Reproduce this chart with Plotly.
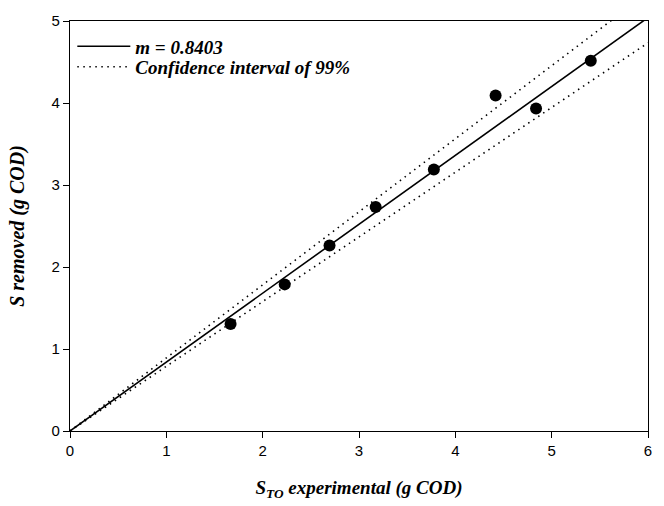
import plotly.graph_objects as go

# Data
s_to_exp = [1.667, 2.229, 2.694, 3.173, 3.777, 4.418, 4.838, 5.406]
s_removed = [1.305, 1.788, 2.261, 2.731, 3.188, 4.092, 3.932, 4.514]
slope = 0.8403
slope_upper = 0.891
slope_lower = 0.789
line_x = [0, 6]

x_ticks = [0, 1, 2, 3, 4, 5, 6]
y_ticks = [0, 1, 2, 3, 4, 5]

serif = "Liberation Serif, Times New Roman, serif"
sans = "Liberation Sans, Arial, sans-serif"

fig = go.Figure()
fig.add_trace(go.Scatter(
    x=line_x, y=[slope * v for v in line_x], mode="lines",
    line=dict(color="black", width=1.6),
    name="<b><i>m = 0.8403</i></b>", legend="legend"))
fig.add_trace(go.Scatter(
    x=line_x, y=[slope_upper * v for v in line_x], mode="lines",
    line=dict(color="black", width=1.6, dash="1.5px,4.5px"),
    name="<b><i>Confidence interval of 99%</i></b>", legend="legend2"))
fig.add_trace(go.Scatter(
    x=line_x, y=[slope_lower * v for v in line_x], mode="lines",
    line=dict(color="black", width=1.6, dash="1.5px,4.5px"),
    showlegend=False))
fig.add_trace(go.Scatter(
    x=s_to_exp, y=s_removed, mode="markers",
    marker=dict(color="black", size=12, symbol="circle"),
    showlegend=False))

axis_common = dict(
    showgrid=False, zeroline=False, showline=True, linecolor="black",
    linewidth=1.3, mirror=True, ticks="outside", ticklen=6, tickwidth=1.3,
    tickcolor="black", tickfont=dict(family=sans, size=15, color="black"),
)

legend_common = dict(
    xanchor="left", yanchor="middle", bgcolor="rgba(0,0,0,0)",
    font=dict(family=serif, size=19, color="black"), itemwidth=53,
)

fig.update_layout(
    width=664, height=506,
    margin=dict(l=70, r=13, t=13, b=74),
    paper_bgcolor="white", plot_bgcolor="white",
    xaxis=dict(range=[0, 6], tickvals=x_ticks, **axis_common,
               title=dict(text="<b><i>S<sub>TO</sub> experimental (g COD)</i></b>",
                          font=dict(family=serif, size=19, color="black"),
                          standoff=22)),
    yaxis=dict(range=[0, 5], tickvals=y_ticks, **axis_common,
               title=dict(text="<b><i>S removed (g COD)</i></b>",
                          font=dict(family=serif, size=20, color="black"),
                          standoff=21)),
    legend=dict(x=0.004, y=0.938, **legend_common),
    legend2=dict(x=0.004, y=0.888, **legend_common),
    showlegend=True,
)

fig.write_html("out.html")
